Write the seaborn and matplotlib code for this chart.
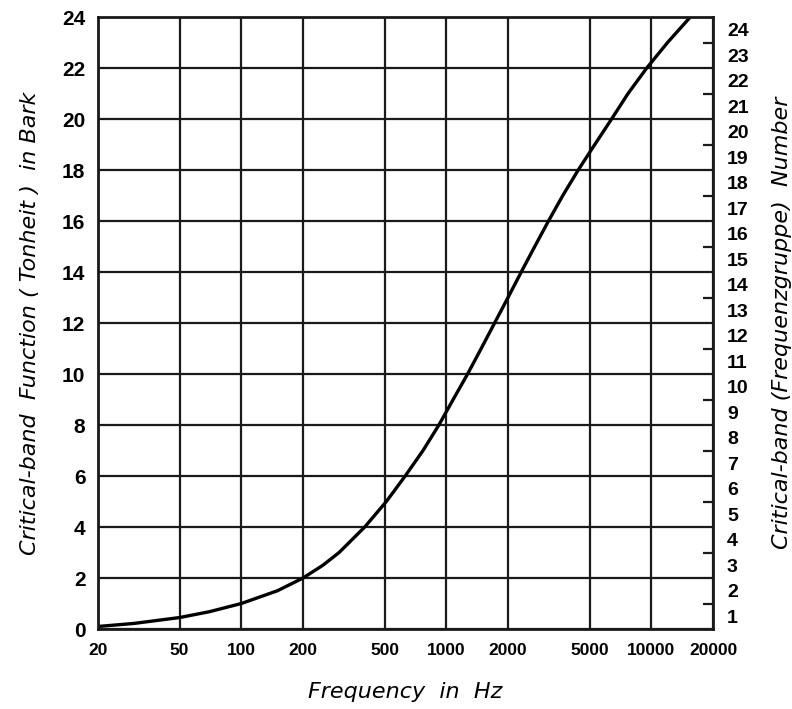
import matplotlib
matplotlib.use("Agg")
import matplotlib.pyplot as plt
import seaborn as sns

# curve (Hz -> Bark)
freq = [20, 30, 50, 70, 100, 150, 200, 250, 300, 400, 510, 630, 770, 920, 1080, 1270,
        1480, 1720, 2000, 2320, 2700, 3150, 3700, 4400, 5300, 6400, 7700, 9500,
        12000, 15500]
bark = [0.1, 0.22, 0.45, 0.68, 1.0, 1.5, 2.0, 2.5, 3.0, 4.0, 5.0, 6.0, 7.0, 8.0, 9.0, 10.0,
        11.0, 12.0, 13.0, 14.0, 15.0, 16.0, 17.0, 18.0, 19.0, 20.0, 21.0, 22.0,
        23.0, 24.0]

xticks = [20, 50, 100, 200, 500, 1000, 2000, 5000, 10000, 20000]
xlabels = ["20", "50", "100", "200", "500", "1000", "2000", "5000", "10000", "20000"]
yticks = list(range(0, 25, 2))
band_numbers = list(range(1, 25))

sns.set_style("white")
plt.rcParams['font.family'] = ['Liberation Sans', 'DejaVu Sans']
plt.rcParams['text.color'] = 'black'
plt.rcParams['axes.labelcolor'] = 'black'
plt.rcParams['xtick.color'] = 'black'
plt.rcParams['ytick.color'] = 'black'

fig = plt.figure(figsize=(7.92, 7.09), dpi=100)
ax = fig.add_axes([0.1237, 0.1128, 0.7766, 0.8632])

sns.lineplot(x=freq, y=bark, ax=ax, color="black", linewidth=2.4,
             solid_joinstyle="round")

ax.set_xscale("log")
ax.set_xlim(20, 20000)
ax.set_ylim(0, 24)
ax.set_xticks(xticks)
ax.set_xticklabels(xlabels)
ax.minorticks_off()
ax.set_yticks(yticks)
ax.grid(True, color="#1a1a1a", linewidth=1.6)
ax.tick_params(axis="x", length=0, pad=10, labelsize=12.5)
ax.tick_params(axis="y", length=0, pad=9, labelsize=15)
for lab in ax.get_xticklabels() + ax.get_yticklabels():
    lab.set_fontweight("bold")
for s in ax.spines.values():
    s.set_color("#1a1a1a")
    s.set_linewidth(2)

ax.set_xlabel("Frequency  in  Hz", fontsize=16, fontstyle="italic",
              family="DejaVu Sans", labelpad=17)
ax.set_ylabel("Critical-band  Function ( Tonheit )  in Bark", fontsize=16,
              fontstyle="italic", family="DejaVu Sans", labelpad=16)

# right axis: critical-band number
ax2 = ax.twinx()
ax2.set_ylim(0, 24)
ax2.set_yticks([n - 0.5 for n in band_numbers])
ax2.set_yticklabels([str(n) for n in band_numbers])
ax2.set_yticks(list(range(1, 24, 2)), minor=True)
ax2.tick_params(axis="y", which="major", length=0, pad=10, labelsize=14)
ax2.tick_params(axis="y", which="minor", direction="in", length=7, width=1.6,
                color="#1a1a1a")
for lab in ax2.get_yticklabels():
    lab.set_fontweight("bold")
for s in ax2.spines.values():
    s.set_visible(False)
ax2.set_ylabel("Critical-band (Frequenzgruppe)  Number", fontsize=16,
               fontstyle="italic", family="DejaVu Sans", labelpad=17)

fig.savefig("out.png", dpi=100)
